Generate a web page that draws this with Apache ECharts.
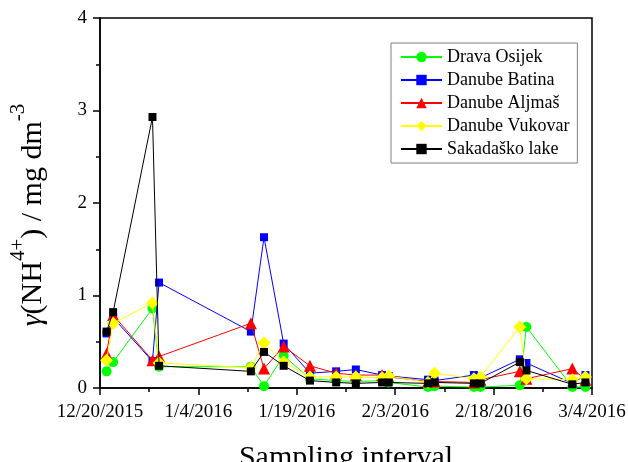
<!DOCTYPE html>
<html>
<head>
<meta charset="utf-8" />
<title>NH4+ sampling</title>
<style>html,body{margin:0;padding:0;background:#fff;}</style>
</head>
<body>
<div id="main" style="width:628px;height:462px"></div>
<script src="https://cdn.jsdelivr.net/npm/echarts@6/dist/echarts.min.js"></script>
<script>
const startDate = '2015-12-20';
const sampleDates = ['2015-12-21', '2015-12-22', '2015-12-28', '2015-12-29', '2016-01-12', '2016-01-14',
  '2016-01-17', '2016-01-21', '2016-01-25', '2016-01-28', '2016-02-01', '2016-02-02', '2016-02-08',
  '2016-02-09', '2016-02-15', '2016-02-16', '2016-02-22', '2016-02-23', '2016-03-01', '2016-03-03'];

const dravaOsijek = [0.18, 0.28, 0.86, 0.23, 0.23, 0.02, 0.35, 0.10, 0.08, 0.07, 0.08, 0.06, 0.01, 0.02, 0.01, 0.01, 0.03, 0.66, 0.01, 0.01];
const danubeBatina = [0.59, 0.76, 0.29, 1.14, 0.61, 1.63, 0.48, 0.16, 0.18, 0.20, 0.14, 0.13, 0.09, 0.08, 0.14, 0.11, 0.31, 0.27, 0.05, 0.14];
const danubeAljmas = [0.37, 0.79, 0.30, 0.34, 0.70, 0.21, 0.45, 0.24, 0.16, 0.14, 0.14, 0.12, 0.07, 0.07, 0.06, 0.09, 0.18, 0.10, 0.21, 0.09];
const danubeVukovar = [0.30, 0.70, 0.92, 0.27, 0.22, 0.49, 0.28, 0.12, 0.12, 0.12, 0.11, 0.13, 0.06, 0.16, 0.10, 0.12, 0.66, 0.10, 0.09, 0.12];
const sakadaskoLake = [0.61, 0.82, 2.93, 0.24, 0.18, 0.39, 0.24, 0.08, 0.06, 0.05, 0.06, 0.06, 0.05, 0.06, 0.05, 0.05, 0.28, 0.19, 0.04, 0.06];

const seriesNames = ['Drava Osijek', 'Danube Batina', 'Danube Aljmaš', 'Danube Vukovar', 'Sakadaško lake'];
const seriesValues = [dravaOsijek, danubeBatina, danubeAljmas, danubeVukovar, sakadaskoLake];
const seriesColors = ['#00ff00', '#0000ff', '#ff0000', '#ffff00', '#000000'];
const seriesSymbols = ['circle', 'rect', 'triangle', 'diamond', 'rect'];
const symbolSizes = [10, 8, 12, 13, 8];

const DAY = 86400000;
const t0 = Date.parse(startDate + 'T00:00:00Z');
const dayOffset = d => (Date.parse(d + 'T00:00:00Z') - t0) / DAY;
const fmtDate = v => {
  const d = new Date(t0 + v * DAY);
  return (d.getUTCMonth() + 1) + '/' + d.getUTCDate() + '/' + d.getUTCFullYear();
};

const serif = 'Liberation Serif';
const black = '#000';

const chart = echarts.init(document.getElementById('main'));
chart.setOption({
  animation: false,
  backgroundColor: '#fff',
  grid: {
    left: 100, right: 36, top: 18, bottom: 74,
    containLabel: false, outerBoundsMode: 'none',
    show: true, borderColor: black, borderWidth: 1.5, backgroundColor: 'transparent'
  },
  legend: {
    orient: 'vertical', left: 391, top: 43,
    padding: [5, 8, 5, 9], itemWidth: 41, itemHeight: 13, itemGap: 5,
    borderColor: '#808080', borderWidth: 1, backgroundColor: '#fff',
    textStyle: { fontFamily: serif, fontSize: 18, color: black, lineHeight: 18 },
    data: seriesNames
  },
  xAxis: {
    type: 'value', min: 0, max: 75, interval: 15,
    axisLine: { show: true, onZero: false, lineStyle: { color: black, width: 1.5 } },
    axisTick: { show: true, inside: false, length: 7, lineStyle: { color: black, width: 1.5 } },
    minorTick: { show: true, splitNumber: 2, length: 4, lineStyle: { color: black, width: 1.5 } },
    splitLine: { show: false },
    axisLabel: { formatter: fmtDate, fontFamily: serif, fontSize: 19, color: black, margin: 15, showMinLabel: true, showMaxLabel: true },
    name: 'Sampling interval', nameLocation: 'middle', nameGap: 55,
    nameTextStyle: { fontFamily: serif, fontSize: 30, color: black }
  },
  yAxis: {
    type: 'value', min: 0, max: 4, interval: 1,
    axisLine: { show: true, onZero: false, lineStyle: { color: black, width: 1.5 } },
    axisTick: { show: true, inside: false, length: 7, lineStyle: { color: black, width: 1.5 } },
    minorTick: { show: true, splitNumber: 2, length: 4, lineStyle: { color: black, width: 1.5 } },
    splitLine: { show: false },
    axisLabel: { fontFamily: serif, fontSize: 19, color: black, margin: 13 },
    name: '{i|γ}{n|(NH}{s|4+}{n|) / mg dm}{s|-3}',
    nameLocation: 'middle', nameRotate: 90, nameGap: 52,
    nameTextStyle: {
      color: black,
      padding: [0, 24, 0, 0],
      rich: {
        i: { fontFamily: serif, fontStyle: 'italic', fontSize: 30, lineHeight: 40, verticalAlign: 'bottom', color: black },
        n: { fontFamily: serif, fontSize: 30, lineHeight: 40, verticalAlign: 'bottom', color: black },
        s: { fontFamily: serif, fontSize: 21, lineHeight: 21, verticalAlign: 'top', color: black }
      }
    }
  },
  series: seriesNames.map((name, i) => ({
    name,
    type: 'line',
    data: sampleDates.map((d, j) => [dayOffset(d), seriesValues[i][j]]),
    symbol: seriesSymbols[i],
    symbolSize: symbolSizes[i],
    showAllSymbol: true,
    lineStyle: { color: seriesColors[i], width: 1 },
    itemStyle: { color: seriesColors[i] },
    emphasis: { disabled: true },
    z: 2 + i
  }))
});
</script>
</body>
</html>
